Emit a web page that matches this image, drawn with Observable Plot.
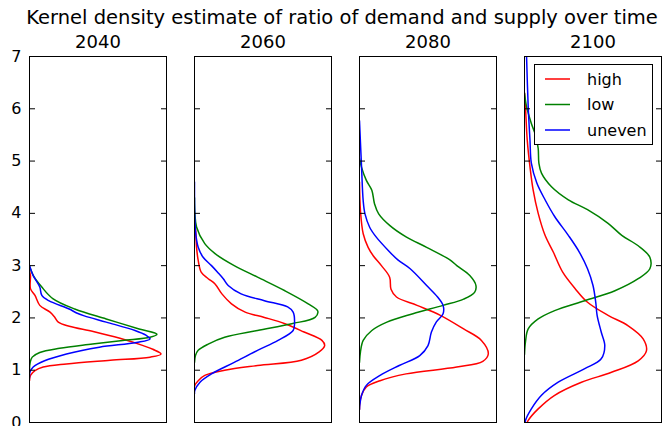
<!DOCTYPE html>
<html>
<head>
<meta charset="utf-8">
<script src="https://cdn.jsdelivr.net/npm/d3@7"></script>
<script src="https://cdn.jsdelivr.net/npm/@observablehq/plot@0.6"></script>
<style>
  body { margin: 0; background: #fff; font-family: "DejaVu Sans", sans-serif; }
  #wrap { position: relative; width: 664px; height: 426px; overflow: hidden; background: #fff; }
  #title { position: absolute; left: 342px; top: 8px; transform: translateX(-50%); white-space: nowrap;
           font-size: 19.5px; line-height: 20px; color: #000; }
  #chart { position: absolute; left: 0; top: 30px; }
  #legend { position: absolute; left: 534px; top: 64px; width: 119px; height: 81px; border: 1px solid #000; background: #fff; box-sizing: border-box; }
</style>
</head>
<body>
<div id="wrap">
  <div id="title"></div>
  <div id="chart"></div>
  <div id="legend"></div>
</div>
<script>
// Panels, series and ticks
const years = ["2040", "2060", "2080", "2100"];
const groups = ["high", "low", "uneven"];
const colors = ["#ff0000", "#008000", "#0000ff"];
const yTicks = [0, 1, 2, 3, 4, 5, 6, 7];
const chartTitle = "Kernel density estimate of ratio of demand and supply over time";

// Each series: [ratio of demand and supply, relative density]
const high2040 = [[0.80,0],[0.90,0.007],[0.99,0.04],[1.06,0.10],[1.12,0.27],[1.19,0.59],[1.25,0.88],[1.31,0.96],[1.40,0.90],[1.47,0.83],[1.61,0.66],[1.74,0.465],[1.84,0.29],[1.92,0.21],[2.01,0.185],[2.11,0.15],[2.24,0.075],[2.43,0.04],[2.56,0.007],[2.81,0.007],[2.90,0]];
const low2040 = [[1.00,0],[1.15,0.005],[1.25,0.02],[1.34,0.075],[1.42,0.22],[1.50,0.46],[1.57,0.68],[1.63,0.88],[1.69,0.93],[1.79,0.80],[1.98,0.56],[2.17,0.33],[2.37,0.17],[2.59,0.09],[2.80,0.03],[2.94,0.007],[3.00,0]];
const uneven2040 = [[0.85,0],[0.96,0.003],[1.06,0.027],[1.18,0.11],[1.31,0.27],[1.44,0.51],[1.53,0.78],[1.60,0.88],[1.67,0.85],[1.76,0.77],[1.92,0.56],[2.04,0.40],[2.10,0.34],[2.17,0.29],[2.33,0.14],[2.43,0.09],[2.59,0.075],[2.81,0.027],[3.00,0]];

const high2060 = [[0.65,0],[0.71,0.002],[0.80,0.027],[0.90,0.075],[1.00,0.22],[1.09,0.46],[1.19,0.78],[1.35,0.91],[1.47,0.95],[1.57,0.93],[1.73,0.80],[1.89,0.66],[2.01,0.51],[2.11,0.37],[2.27,0.27],[2.46,0.20],[2.65,0.15],[2.75,0.10],[2.87,0.05],[3.10,0.027],[3.35,0.015],[3.74,0.007],[3.90,0]];
const low2060 = [[1.15,0],[1.28,0.007],[1.38,0.027],[1.50,0.10],[1.63,0.22],[1.76,0.46],[1.89,0.71],[2.01,0.88],[2.13,0.90],[2.27,0.83],[2.52,0.66],[2.78,0.46],[3.00,0.29],[3.23,0.15],[3.42,0.075],[3.74,0.015],[4.00,0.003],[4.30,0]];
const uneven2060 = [[0.55,0],[0.61,0.002],[0.77,0.04],[0.93,0.124],[1.15,0.29],[1.38,0.46],[1.57,0.61],[1.76,0.72],[1.89,0.73],[2.11,0.72],[2.21,0.68],[2.33,0.51],[2.46,0.34],[2.62,0.246],[2.75,0.21],[2.87,0.17],[3.00,0.124],[3.16,0.063],[3.35,0.027],[3.67,0.007],[4.60,0]];

const high2080 = [[0.25,0],[0.36,0.002],[0.52,0.015],[0.68,0.05],[0.80,0.15],[0.93,0.34],[1.06,0.71],[1.17,0.90],[1.31,0.94],[1.57,0.89],[1.79,0.76],[2.05,0.59],[2.24,0.42],[2.40,0.27],[2.55,0.23],[2.78,0.22],[3.00,0.16],[3.19,0.10],[3.35,0.063],[3.61,0.027],[4.05,0.007],[4.60,0]];
const low2080 = [[1.15,0],[1.35,0.007],[1.57,0.027],[1.76,0.09],[1.92,0.20],[2.08,0.39],[2.24,0.61],[2.36,0.76],[2.49,0.84],[2.62,0.85],[2.81,0.805],[3.00,0.71],[3.11,0.66],[3.35,0.49],[3.55,0.34],[3.77,0.22],[3.99,0.14],[4.18,0.11],[4.44,0.09],[4.63,0.05],[4.88,0.015],[5.05,0]];
const uneven2080 = [[0.25,0],[0.33,0.002],[0.52,0.015],[0.71,0.05],[0.90,0.15],[1.09,0.29],[1.28,0.44],[1.47,0.50],[1.73,0.525],[1.92,0.56],[2.08,0.61],[2.24,0.61],[2.40,0.57],[2.62,0.49],[2.94,0.37],[3.11,0.28],[3.29,0.21],[3.54,0.124],[3.73,0.075],[3.99,0.04],[4.24,0.027],[4.88,0.015],[5.77,0]];

const high2100 = [[0.00,0.02],[0.04,0.027],[0.26,0.10],[0.52,0.22],[0.77,0.416],[0.96,0.635],[1.18,0.83],[1.37,0.89],[1.60,0.866],[1.85,0.757],[2.05,0.61],[2.30,0.46],[2.56,0.37],[2.87,0.28],[3.26,0.21],[3.58,0.15],[4.00,0.10],[4.45,0.063],[4.89,0.04],[5.40,0.02],[6.04,0.007],[6.30,0]];
const low2100 = [[1.30,0],[1.54,0.007],[1.79,0.027],[1.98,0.10],[2.14,0.22],[2.33,0.44],[2.52,0.66],[2.75,0.83],[2.94,0.915],[3.16,0.915],[3.38,0.83],[3.58,0.71],[3.81,0.61],[4.07,0.46],[4.26,0.32],[4.51,0.197],[4.77,0.124],[4.96,0.105],[5.24,0.10],[5.50,0.08],[5.72,0.05],[6.04,0.015],[6.30,0]];
const uneven2100 = [[0.00,0.005],[0.04,0.007],[0.26,0.05],[0.52,0.124],[0.77,0.246],[1.03,0.44],[1.22,0.56],[1.47,0.586],[1.73,0.56],[2.05,0.53],[2.30,0.52],[2.62,0.50],[2.94,0.46],[3.26,0.40],[3.58,0.32],[3.94,0.22],[4.26,0.15],[4.58,0.09],[4.96,0.05],[5.40,0.04],[6.04,0.027],[7.00,0.015]];

const series = {
  "2040": {high: high2040, low: low2040, uneven: uneven2040},
  "2060": {high: high2060, low: low2060, uneven: uneven2060},
  "2080": {high: high2080, low: low2080, uneven: uneven2080},
  "2100": {high: high2100, low: low2100, uneven: uneven2100}
};

const rows = [];
for (const year of years) for (const g of groups)
  for (const [ratio, density] of series[year][g]) rows.push({year, group: g, ratio, density});

document.getElementById("title").textContent = chartTitle;

const chart = Plot.plot({
  width: 664,
  height: 396,
  marginTop: 26,
  marginBottom: 4,
  marginLeft: 29,
  marginRight: 3,
  style: {fontFamily: "DejaVu Sans", fontSize: "16px", background: "white", color: "black"},
  fx: {domain: years, paddingInner: 0.17, paddingOuter: 0, label: null},
  x: {domain: [0, 1], axis: null},
  y: {domain: [0, 7], ticks: yTicks, label: null},
  color: {domain: groups, range: colors},
  marks: [
    Plot.line(rows, {fx: "year", x: "density", y: "ratio", z: "group", stroke: "group",
                     strokeWidth: 1.5, curve: "catmull-rom", clip: true}),
    Plot.frame({stroke: "black", strokeWidth: 1}),
    Plot.axisY(yTicks, {anchor: "left", tickSize: -6, tickFormat: () => "", facetAnchor: null, label: null, stroke: "black"}),
    Plot.axisY(yTicks, {anchor: "right", tickSize: -6, tickFormat: () => "", facetAnchor: null, label: null, stroke: "black"}),
    Plot.axisY(yTicks, {anchor: "left", tickSize: 0, tickPadding: 8, tickFormat: "d", fontSize: 16, label: null, fill: "black"}),
    Plot.axisFx({anchor: "top", tickSize: 0, tickPadding: 9, fontSize: 18, label: null, fill: "black"})
  ]
});
document.getElementById("chart").appendChild(chart);

// Legend
const ns = "http://www.w3.org/2000/svg";
const lsvg = document.createElementNS(ns, "svg");
lsvg.setAttribute("width", 117);
lsvg.setAttribute("height", 79);
lsvg.style.display = "block";
groups.forEach((g, i) => {
  const cy = 14 + i * 25.5;
  const ln = document.createElementNS(ns, "line");
  ln.setAttribute("x1", 10); ln.setAttribute("x2", 35);
  ln.setAttribute("y1", cy); ln.setAttribute("y2", cy);
  ln.setAttribute("stroke", colors[i]); ln.setAttribute("stroke-width", 1.5);
  lsvg.appendChild(ln);
  const t = document.createElementNS(ns, "text");
  t.setAttribute("x", 52); t.setAttribute("y", cy);
  t.setAttribute("dy", "0.35em");
  t.setAttribute("font-family", "DejaVu Sans");
  t.setAttribute("font-size", 16);
  t.textContent = g;
  lsvg.appendChild(t);
});
document.getElementById("legend").appendChild(lsvg);
</script>
</body>
</html>
